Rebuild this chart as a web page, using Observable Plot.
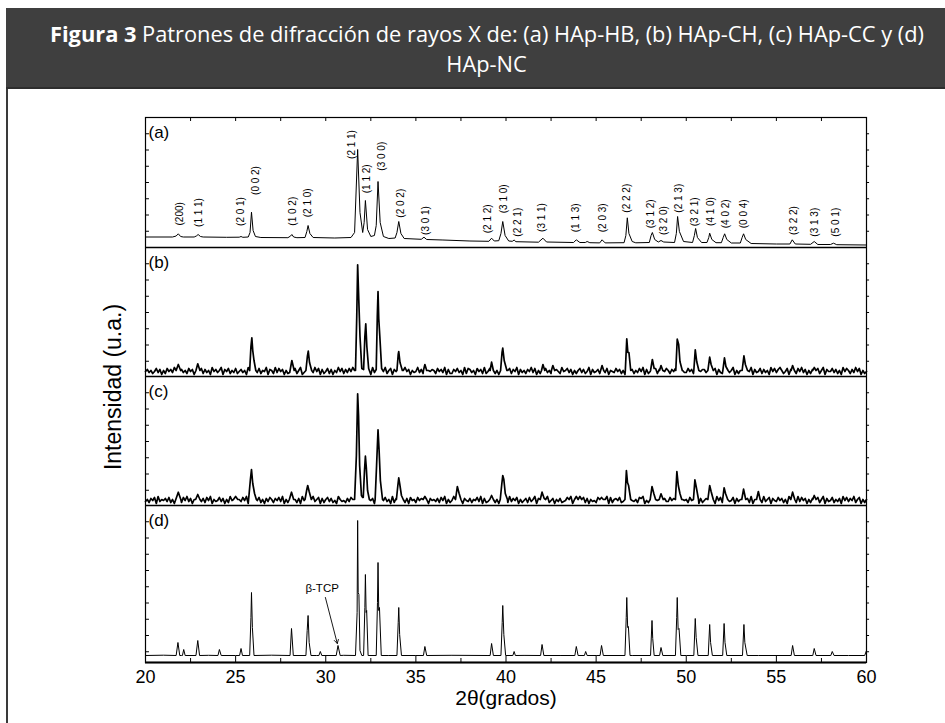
<!DOCTYPE html>
<html><head><meta charset="utf-8">
<script src="https://cdn.jsdelivr.net/npm/d3@7"></script>
<script src="https://cdn.jsdelivr.net/npm/@observablehq/plot@0.6"></script>
<style>
html,body{margin:0;padding:0;background:#fff;width:945px;height:723px;overflow:hidden;position:relative}
#hdr{position:absolute;left:6px;top:8px;width:980px;height:79px;background:#3f3f3f;border-bottom:2px solid #2d2d2d}
#border{position:absolute;left:6px;top:89px;width:2px;height:640px;background:#3a3a3a}
.t{position:absolute;left:0;white-space:nowrap;font-family:"Open Sans",sans-serif;font-size:22px;line-height:22px;color:#fff;transform-origin:center top}
.t b{font-weight:700}
#chart{position:absolute;left:0;top:112px}
</style></head><body>
<div id="hdr"></div><div id="border"></div>
<div id="l1" class="t"><b>Figura 3</b> Patrones de difracción de rayos X de: (a) HAp-HB, (b) HAp-CH, (c) HAp-CC y (d)</div>
<div id="l2" class="t">HAp-NC</div>
<div id="chart"></div>
<script>
// ---------- DATA (2θ in degrees, intensity in arbitrary units within each panel) ----------
const panels = ["a", "b", "c", "d"];
const panelLabels = ["(a)", "(b)", "(c)", "(d)"];
const xTicks = [20, 25, 30, 35, 40, 45, 50, 55, 60];

// (a) HAp-HB: read vertices of the pattern
const seriesA = [[20,10.5],[21.5,10.5],[21.7,11.5],[21.82,13.7],[21.95,11],[22.1,10.5],[22.7,10.5],[22.82,11.5],[22.92,13],[23.05,11],[23.2,10.5],[24.5,10.2],[25.2,10.3],[25.3,11],[25.4,10.2],[25.7,10.5],[25.8,15],[25.88,35.3],[25.97,17],[26.1,11],[26.4,10],[27.9,9.8],[28.05,11.5],[28.12,13],[28.22,10.5],[28.4,9.8],[28.85,10],[28.95,16],[29.02,22],[29.12,14],[29.3,10],[30.5,9.5],[31.4,10],[31.6,15],[31.77,98],[31.9,35],[32.05,15],[32.13,25],[32.2,47],[32.32,18],[32.5,11],[32.7,12],[32.8,22],[32.9,66],[33.02,25],[33.2,11],[33.5,9],[33.85,9.5],[33.95,15],[34.05,26],[34.17,14],[34.35,9],[35.3,8.2],[35.45,10.3],[35.6,8],[36.5,7.5],[38,6.5],[39.05,6.2],[39.2,9.3],[39.35,6.5],[39.6,6.8],[39.72,14],[39.82,26],[39.95,12],[40.15,6.5],[40.35,6.2],[40.45,7.5],[40.55,5.8],[41.8,5.3],[42.05,9.3],[42.25,5.5],[43.75,5],[43.9,7.7],[44.1,5],[44.4,5],[44.5,6],[44.65,4.8],[45.2,4.6],[45.33,7.7],[45.5,4.6],[46.55,4.8],[46.65,12],[46.73,29.7],[46.82,14],[47.0,6],[47.2,4.7],[47.95,5],[48.05,12],[48.12,15],[48.25,8],[48.45,5.5],[48.6,7],[48.75,5.5],[49.35,5],[49.45,14],[49.52,31],[49.62,16],[49.85,6],[50.35,5],[50.45,12],[50.52,19],[50.62,10],[50.85,5],[51.15,5],[51.25,10],[51.3,14.3],[51.42,8],[51.65,4.8],[51.95,4.8],[52.05,10],[52.13,13.7],[52.25,8],[52.5,4.5],[53.0,4.5],[53.1,10],[53.18,13.7],[53.3,8],[53.6,4],[55.0,3.5],[55.75,3.5],[55.88,7.7],[56.05,3.5],[56.9,3.2],[57.1,6],[57.3,3],[58.0,3],[58.17,4.3],[58.35,2.8],[60,2.5]];

// (b) HAp-CH: background read every 0.1° from 20° to 60°, then peaks
const noiseB = "5746358472 6385749362 7463857294 5837462957 4692758364 8357462936 5748365927 6394857263 4758369247 7364958273 5837264958 3748596274 6385729463 7459368275 4836957264 5947382657 6385749273 3758462938 7462857393 5847362958 4683759274 6375948263 7584639275 3956847263 6847359274 5736948265 4857362947 7364859273 5948372658 6375849264 4857362957 7469358274 3857469263 6748359274 5837462958 4796358274 6385947263 7458369275 5847362958 6374958263 5";
const peaksB = [
 [[21.7,6],[21.82,12],[21.95,6]],
 [[22.8,6],[22.9,12.7],[23.02,6]],
 [[25.78,6],[25.85,30],[25.9,38.7],[25.95,26],[26.02,16],[26.12,6]],
 [[28.02,6],[28.12,16],[28.25,6]],
 [[28.9,6],[28.98,20],[29.03,25.3],[29.1,14],[29.22,6]],
 [[31.65,6],[31.72,60],[31.77,111.7],[31.83,78],[31.9,40],[32.0,8]],
 [[32.1,7],[32.17,40],[32.22,52.7],[32.28,30],[32.38,8]],
 [[32.8,7],[32.86,60],[32.9,85],[32.94,58],[33.0,40],[33.1,8]],
 [[33.95,6],[34.02,22],[34.05,25],[34.12,14],[34.25,6]],
 [[35.42,6],[35.5,12],[35.6,6]],
 [[39.12,6],[39.2,14.3],[39.3,6]],
 [[39.7,6],[39.78,24],[39.82,28.3],[39.9,16],[40.05,6]],
 [[41.97,6],[42.05,12],[42.15,6]],
 [[42.52,6],[42.6,11],[42.7,6]],
 [[45.25,6],[45.33,11],[45.42,6]],
 [[46.62,6],[46.7,37.7],[46.76,24],[46.82,24],[46.92,6]],
 [[48.02,6],[48.12,17],[48.22,8]],
 [[48.52,6],[48.6,11],[48.7,6]],
 [[49.42,6],[49.5,37.3],[49.58,32],[49.65,15],[49.78,6]],
 [[50.42,6],[50.5,26.7],[50.58,15],[50.7,6]],
 [[51.2,6],[51.3,19.3],[51.38,12],[51.5,6]],
 [[52.03,6],[52.12,18.7],[52.2,10],[52.32,6]],
 [[53.1,6],[53.2,20.7],[53.28,12],[53.4,6]],
 [[55.82,6],[55.9,11],[56.0,6]],
 [[57.02,6],[57.1,9],[57.2,6]]
];

// (c) HAp-CC
const noiseC = "4637582946 5748362957 3859472638 6473859264 5847263958 7364859273 4958362748 6375849263 5846372958 3759468273 6847352964 5374869253 4968357264 7358462937 5649372856 3857469275 6473859263 5948362754 7365849273 4857362948 6394758263 5738469275 4869357264 7345869273 5968372645 3847569283 6758349264 5463879253 7349586274 4857369265 6385749273 5748362958 3967458274 6485739263 5739468275 4857362947 6394857263 7548369274 5836472958 4759368263 6";
const peaksC = [
 [[21.68,6],[21.82,13.3],[21.96,6]],
 [[22.78,6],[22.9,11],[23.02,6]],
 [[24.88,6],[25.0,9],[25.12,6]],
 [[25.72,6],[25.82,26],[25.88,36],[25.95,22],[26.05,12],[26.15,6]],
 [[27.98,6],[28.1,13.3],[28.22,6]],
 [[28.85,6],[28.95,16],[29.0,20],[29.08,14],[29.2,6]],
 [[31.6,6],[31.7,50],[31.77,111.7],[31.82,90],[31.88,40],[31.98,10],[32.05,8]],
 [[32.08,8],[32.15,35],[32.2,49.3],[32.25,38],[32.32,15],[32.42,6]],
 [[32.74,6],[32.82,40],[32.9,75.7],[32.96,55],[33.03,25],[33.15,6]],
 [[33.92,6],[34.0,20],[34.05,27.7],[34.1,22],[34.2,10],[34.3,6]],
 [[35.4,6],[35.5,9],[35.6,6]],
 [[37.2,6],[37.3,19],[37.4,12],[37.5,6]],
 [[39.1,6],[39.2,10],[39.3,6]],
 [[39.68,6],[39.77,22],[39.82,30],[39.88,26],[39.96,12],[40.08,6]],
 [[41.9,6],[42.0,13.3],[42.12,7],[42.2,6]],
 [[43.8,6],[43.9,9],[44.0,6]],
 [[45.2,6],[45.3,8],[45.4,6]],
 [[46.6,6],[46.68,35],[46.74,23],[46.8,20],[46.92,6]],
 [[48.0,6],[48.1,19],[48.2,12],[48.3,6]],
 [[48.5,6],[48.6,11.7],[48.72,6]],
 [[49.4,6],[49.48,34],[49.56,20],[49.65,12],[49.75,6]],
 [[50.4,6],[50.48,25.7],[50.56,18],[50.68,6]],
 [[51.2,6],[51.3,20],[51.38,14],[51.5,6]],
 [[52.02,6],[52.1,17.7],[52.18,12],[52.3,6]],
 [[53.08,6],[53.18,16.3],[53.3,6]],
 [[53.9,6],[54.0,14],[54.1,6]],
 [[55.8,6],[55.9,13.3],[56.02,6]],
 [[57.02,6],[57.1,10],[57.2,6]]
];

// (d) HAp-NC
const backgroundD = [[20,7],[21,7.3],[22,7],[23.5,7.2],[25,7],[27,7.3],[29.5,7],[31,7.2],[33.5,7],[35,7],[37,7.2],[39,7],[41,7.1],[43,7],[45,7],[47,7],[50,7],[54,7],[56,7],[59,7],[59.9,7],[60,12]];
const peaksD = [
 [[21.7,7],[21.8,20],[21.9,7]],
 [[22.05,7],[22.12,13],[22.2,7]],
 [[22.8,7],[22.9,22],[23.0,7]],
 [[24.02,7],[24.1,13],[24.2,7]],
 [[25.22,7],[25.3,14],[25.38,7]],
 [[25.78,7],[25.85,45],[25.88,70],[25.93,35],[26.02,7]],
 [[28.02,7],[28.1,34],[28.2,7]],
 [[28.9,7],[28.97,32],[29.02,47],[29.08,20],[29.18,7]],
 [[29.62,7],[29.7,11],[29.78,7]],
 [[30.58,7],[30.68,17],[30.8,7]],
 [[31.65,7],[31.74,50],[31.77,142],[31.8,70],[31.84,68],[31.9,12],[32.0,7]],
 [[32.1,7],[32.17,55],[32.2,88],[32.24,50],[32.27,52],[32.35,7]],
 [[32.8,7],[32.87,60],[32.9,100],[32.94,52],[32.98,55],[33.08,7]],
 [[33.95,7],[34.02,40],[34.05,55],[34.1,28],[34.2,7]],
 [[35.42,7],[35.5,16],[35.6,7]],
 [[39.12,7],[39.2,19],[39.3,7]],
 [[39.72,7],[39.79,40],[39.82,57],[39.88,28],[39.98,7]],
 [[40.38,7],[40.45,11],[40.52,7]],
 [[41.92,7],[42.0,18],[42.1,7]],
 [[43.82,7],[43.9,16],[44.0,7]],
 [[44.35,7],[44.42,11],[44.5,7]],
 [[45.22,7],[45.3,17],[45.4,7]],
 [[46.6,7],[46.67,45],[46.7,65],[46.75,35],[46.79,36],[46.88,7]],
 [[48.02,7],[48.1,42],[48.14,24],[48.22,7]],
 [[48.52,7],[48.6,15],[48.7,7]],
 [[49.4,7],[49.47,45],[49.5,65],[49.55,33],[49.6,34],[49.7,7]],
 [[50.42,7],[50.5,44],[50.55,25],[50.65,7]],
 [[51.22,7],[51.3,38],[51.35,20],[51.45,7]],
 [[52.02,7],[52.1,39],[52.15,20],[52.25,7]],
 [[53.12,7],[53.2,38],[53.25,20],[53.38,7]],
 [[55.82,7],[55.9,17],[56.0,7]],
 [[57.02,7],[57.1,14],[57.2,7]],
 [[58.02,7],[58.1,11],[58.2,7]]
];

// Miller indices labelled on pattern (a)
const hklText = ["(200)","(1 1 1)","(2 0 1)","(0 0 2)","(1 0 2)","(2 1 0)","(2 1 1)","(1 1 2)","(3 0 0)","(2 0 2)","(3 0 1)","(2 1 2)","(3 1 0)","(2 2 1)","(3 1 1)","(1 1 3)","(2 0 3)","(2 2 2)","(3 1 2)","(3 2 0)","(2 1 3)","(3 2 1)","(4 1 0)","(4 0 2)","(0 0 4)","(3 2 2)","(3 1 3)","(5 0 1)"];
const hklAngle = [21.89,22.96,25.27,26.14,28.17,29.0,31.43,32.30,33.13,34.14,35.57,39.01,39.87,40.67,42.0,43.85,45.39,46.72,48.01,48.75,49.58,50.50,51.34,52.17,53.18,55.96,57.12,58.27];
const hklLevel = [33.7,35,36,67,36.3,44.7,103,68.7,91.3,44.3,27,28.7,48.7,25.3,30,29.7,29.7,49.3,33.7,27,49.3,35.7,36,33.7,33.7,27,25.3,25.3];
const hklBold = ["(200)","(1 1 1)"];

// β-TCP annotation on pattern (d)
const tcpLabel = "β-TCP";
const tcpText = [29.8, 74];
const tcpArrow = [29.98, 65, 30.64, 19];

// ---------- BUILD ----------
const panelSpan = {a: 130, b: 129, c: 129, d: 157};   // a.u. span of each stacked panel
const offset = {d: 0, c: 157, b: 286, a: 415};
const TOP = 545;
const TICK_STEP = 16.25;

function merge(bg, groups) {
  const ranges = groups.map(g => [g[0][0], g[g.length - 1][0]]);
  const pts = bg.filter(([x]) => !ranges.some(([l, r]) => x >= l - 1e-4 && x <= r + 1e-4));
  groups.forEach(g => pts.push(...g));
  return pts.sort((p, q) => p[0] - q[0]);
}
const gridPts = s => [...s.replace(/\s/g, "")].map((c, i) => [20 + i * 0.1, +c]);

const data = {
  a: seriesA,
  b: merge(gridPts(noiseB), peaksB),
  c: merge(gridPts(noiseC), peaksC),
  d: merge(backgroundD, peaksD)
};
const rows = p => data[p].map(([x, v]) => ({x, y: v + offset[p]}));
const panelTop = p => offset[p] + panelSpan[p];

const majorMinor = d3.range(20, 60.01, 2.5);
const yTicks = panels.flatMap(p => d3.range(1, 20).map(k => panelTop(p) - k * TICK_STEP).filter(v => v > offset[p] + 4));
const hkl = hklText.map((t, i) => ({t, x: hklAngle[i], y: hklLevel[i] + offset.a, bold: hklBold.includes(t)}));

const ML = 145, MR = 79, MT = 5, MB = 62;
const chart = Plot.plot({
  width: 945, height: TOP + MT + MB,
  marginLeft: ML, marginRight: MR, marginTop: MT, marginBottom: MB,
  axis: null,
  x: {domain: [20, 60]},
  y: {domain: [0, TOP]},
  style: {fontFamily: "'Liberation Sans', Arial, sans-serif", background: "transparent", color: "black", overflow: "visible"},
  marks: [
    Plot.line(rows("a"), {x: "x", y: "y", stroke: "black", strokeWidth: 1}),
    Plot.line(rows("b"), {x: "x", y: "y", stroke: "black", strokeWidth: 1.7}),
    Plot.line(rows("c"), {x: "x", y: "y", stroke: "black", strokeWidth: 1.7}),
    Plot.line(rows("d"), {x: "x", y: "y", stroke: "black", strokeWidth: 1}),
    Plot.frame({stroke: "black", strokeWidth: 1.2}),
    Plot.ruleY([offset.c, offset.b, offset.a], {stroke: "black", strokeWidth: 1.3}),
    Plot.ruleY([0], {stroke: "black", strokeWidth: 2.2}),
    Plot.ruleX(majorMinor, {x: d => d, y1: 0, y2: d => (d % 5 === 0 ? 6 : 4), stroke: "black"}),
    Plot.ruleX(majorMinor, {x: d => d, y1: TOP, y2: TOP - 4, stroke: "black"}),
    Plot.ruleY(yTicks, {y: d => d, x1: 20, x2: 20.22, stroke: "black"}),
    Plot.ruleY(yTicks, {y: d => d, x1: 60, x2: 60.17, stroke: "black"}),
    Plot.text(xTicks, {x: d => d, y: 0, dy: 15, text: d => String(d), fontSize: 18}),
    Plot.text(["2θ(grados)"], {frameAnchor: "bottom", dy: 42, fontSize: 21}),
    Plot.text(["Intensidad (u.a.)"], {frameAnchor: "left", textAnchor: "middle", dx: -32, dy: -3, rotate: -90, fontSize: 23}),
    Plot.text(panelLabels, {x: 20, y: (d, i) => panelTop(panels[i]), dx: 3, dy: 15, text: d => d, textAnchor: "start", fontSize: 17}),
    Plot.text(hkl, {x: "x", y: "y", text: "t", rotate: -90, fontSize: 10, fontWeight: d => d.bold ? "bold" : "normal"}),
    Plot.text([tcpLabel], {x: tcpText[0], y: tcpText[1] + offset.d, fontSize: 11.5}),
    Plot.arrow([tcpArrow], {x1: d => d[0], y1: d => d[1] + offset.d, x2: d => d[2], y2: d => d[3] + offset.d, stroke: "black", strokeWidth: 0.9, headLength: 7})
  ]
});
document.getElementById("chart").appendChild(chart);

// ---------- title layout ----------
function layoutTitle() {
  const l1 = document.getElementById("l1"), l2 = document.getElementById("l2");
  l1.style.transform = "none"; l2.style.transform = "none";
  const s = 874 / l1.getBoundingClientRect().width;
  [[l1, 21.5], [l2, 51.5]].forEach(([el, top]) => {
    const w = el.getBoundingClientRect().width;
    el.style.left = (487 - w / 2) + "px";
    el.style.top = top + "px";
    el.style.transform = `scaleX(${s})`;
  });
}
layoutTitle();
if (document.fonts) document.fonts.ready.then(layoutTitle);
</script>
</body></html>
